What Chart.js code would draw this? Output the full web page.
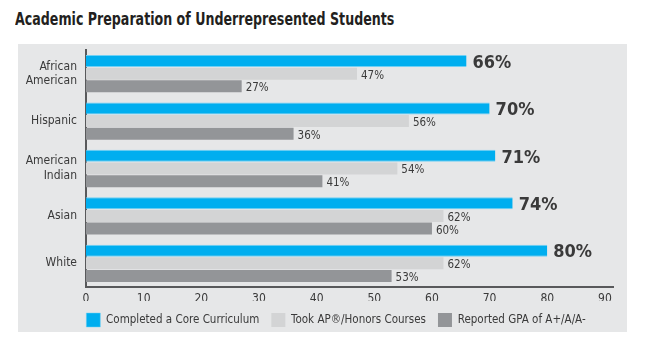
<!DOCTYPE html>
<html>
<head>
<meta charset="utf-8">
<script src="https://cdn.jsdelivr.net/npm/chart.js@4.4.1/dist/chart.umd.min.js"></script>
<style>
  html, body { margin: 0; padding: 0; background: #ffffff; }
  body { width: 650px; height: 354px; position: relative; overflow: hidden; }
  #title { position: absolute; left: 15px; top: 8px; font-family: "DejaVu Sans Condensed", sans-serif; font-stretch: condensed; font-weight: bold; font-size: 18px; color: #231f20; white-space: nowrap; transform: scaleX(0.78); transform-origin: 0 0; }
  #panel { position: absolute; left: 18px; top: 44px; width: 609px; height: 288px; background: #e6e7e8; }
  #c { position: absolute; left: 18px; top: 44px; }
</style>
</head>
<body>
<div id="title">Academic Preparation of Underrepresented Students</div>
<div id="panel"></div>
<canvas id="c" width="609" height="293"></canvas>
<script>
const categories = [["African", "American"], "Hispanic", ["American", "Indian"], "Asian", "White"];
const seriesNames = ["Completed a Core Curriculum", "Took AP\u00AE/Honors Courses", "Reported GPA of A+/A/A-"];
const coreCurriculum = [66, 70, 71, 74, 80];
const apHonors = [47, 56, 54, 62, 62];
const gpaA = [27, 36, 41, 60, 53];
const xTicks = [0, 10, 20, 30, 40, 50, 60, 70, 80, 90];

const FONT = '"DejaVu Sans Condensed", sans-serif';
const colors = ["#00aeef", "#d3d4d5", "#939598"];

const labelPlugin = {
  id: "valueLabels",
  afterDatasetsDraw(chart) {
    const ctx = chart.ctx;
    ctx.save();
    chart.data.datasets.forEach((ds, di) => {
      const meta = chart.getDatasetMeta(di);
      meta.data.forEach((el, i) => {
        const v = ds.data[i];
        ctx.fillStyle = "#3a3a3a";
        ctx.textBaseline = "middle";
        if (di === 0) {
          ctx.font = 'bold 18px ' + FONT;
          ctx.fillText(v + "%", el.x + 6, el.y + 2);
        } else {
          ctx.font = '11.5px ' + FONT;
          ctx.fillText(v + "%", el.x + 4, el.y + 2);
        }
      });
    });
    ctx.restore();
  }
};

// shift the legend so it sits centred under the plot like the original
const legendShift = {
  id: "legendShift",
  afterLayout(chart) {
    if (chart.legend) {
      chart.legend.left += 20.5;
      chart.legend.right += 20.5;
    }
  }
};

new Chart(document.getElementById("c"), {
  type: "bar",
  data: {
    labels: categories,
    datasets: [
      { label: seriesNames[0], data: coreCurriculum, backgroundColor: colors[0], borderColor: "#6fd0f5", borderWidth: {top: 1, bottom: 1, left: 0, right: 0} },
      { label: seriesNames[1], data: apHonors, backgroundColor: colors[1] },
      { label: seriesNames[2], data: gpaA, backgroundColor: colors[2] }
    ]
  },
  options: {
    indexAxis: "y",
    responsive: false,
    animation: false,
    devicePixelRatio: 1,
    layout: { padding: { left: 0, right: 14, top: 6, bottom: 0 } },
    datasets: { bar: { categoryPercentage: 0.8, barPercentage: 0.95 } },
    scales: {
      x: {
        min: 0,
        max: 91.4,
        afterBuildTicks(scale) { scale.ticks = xTicks.map(v => ({ value: v })); },
        grid: { display: false, drawTicks: false },
        border: { display: true, color: "#58595b", width: 2 },
        ticks: { font: { family: FONT, size: 12 }, color: "#3a3a3a", padding: 5, maxRotation: 0 },
        afterFit(scale) { scale.height = 14; }
      },
      y: {
        grid: { display: false, drawTicks: false },
        border: { display: true, color: "#58595b", width: 2 },
        ticks: { font: { family: FONT, size: 12, lineHeight: 1.2 }, color: "#3a3a3a", padding: 9 },
        afterFit(scale) { scale.width = 68; scale.paddingTop = 0; scale.paddingBottom = 0; }
      }
    },
    plugins: {
      legend: {
        position: "bottom",
        align: "center",
        labels: { boxWidth: 14, boxHeight: 14, padding: 12, color: "#3a3a3a", font: { family: FONT, size: 11.5 } }
      },
      tooltip: { enabled: false }
    }
  },
  plugins: [labelPlugin, legendShift]
});
</script>
</body>
</html>
